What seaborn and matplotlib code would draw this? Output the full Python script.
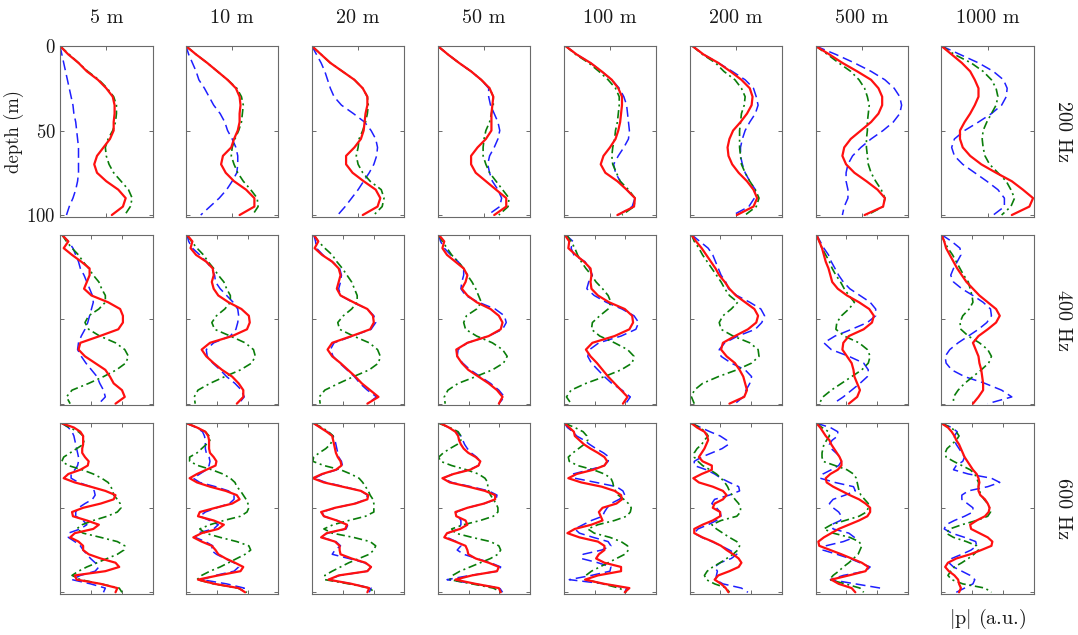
import numpy as np
import pandas as pd
import matplotlib
matplotlib.use("Agg")
import matplotlib.pyplot as plt
import seaborn as sns

# ---------------------------------------------------------------------------
# Receiver ranges (columns) and source frequencies (rows)
RANGES = ["5 m", "10 m", "20 m", "50 m", "100 m", "200 m", "500 m", "1000 m"]
FREQS = ["200 Hz", "400 Hz", "600 Hz"]

# depth grids (m) on which the profiles are sampled
DEPTH_200 = [0, 5, 10, 15, 20, 25, 30, 35, 40, 45, 50, 55, 60, 65, 70, 75, 80, 85, 90, 95, 100]
DEPTH_400 = [0, 4, 8, 12, 16, 20, 24, 28, 32, 36, 40, 44, 48, 52, 56, 60, 64, 68, 72, 76, 80,
             84, 88, 92, 96, 100]
DEPTH_600 = [0, 2.5, 5, 7.5, 10, 12.5, 15, 17.5, 20, 22.5, 25, 27.5, 30, 32.5, 35, 37.5, 40,
             42.5, 45, 47.5, 50, 52.5, 55, 57.5, 60, 62.5, 65, 67.5, 70, 72.5, 75, 77.5, 80,
             82.5, 85, 87.5, 90, 92.5, 95, 97.5, 100]

# |p| (a.u.), one list per range --------------------------------------------
SOLID_200 = [
    [0, .09, .2, .29, .41, .5, .57, .59, .59, .58, .58, .54, .47, .40, .37, .40, .50, .63, .71, .68, .56],
    [0, .11, .23, .34, .45, .54, .58, .59, .58, .58, .56, .52, .49, .4, .38, .43, .52, .65, .74, .74, .58],
    [0, .1, .2, .33, .46, .55, .6, .6, .58, .57, .56, .53, .46, .37, .37, .44, .56, .69, .74, .71, .55],
    [0, .11, .23, .36, .47, .56, .60, .59, .58, .58, .58, .52, .43, .36, .36, .41, .52, .63, .74, .74, .61],
    [.02, .14, .29, .41, .52, .59, .63, .63, .62, .61, .59, .56, .50, .43, .40, .45, .58, .68, .77, .76, .58],
    [.03, .15, .31, .44, .56, .65, .68, .67, .62, .55, .47, .43, .41, .42, .46, .53, .62, .69, .73, .69, .51],
    [0, .15, .29, .45, .6, .68, .72, .72, .68, .6, .49, .38, .31, .29, .33, .42, .55, .67, .75, .73, .53],
    [0, .11, .22, .31, .36, .4, .4, .36, .31, .25, .2, .2, .23, .31, .43, .59, .76, .88, .99, .95, .76],
]
DASHED_200 = [
    [0, .02, .04, .06, .08, .1, .12, .14, .15, .17, .18, .19, .2, .2, .2, .2, .19, .17, .14, .1, .07],
    [0, .03, .07, .11, .14, .2, .25, .3, .37, .42, .45, .5, .54, .56, .56, .55, .5, .44, .36, .26, .16],
    [0, .05, .1, .14, .17, .2, .24, .32, .45, .57, .64, .69, .71, .7, .67, .62, .56, .5, .43, .36, .28],
    [0, .11, .23, .36, .47, .55, .55, .57, .61, .65, .67, .65, .61, .56, .54, .56, .59, .65, .69, .67, .54],
    [.02, .14, .29, .41, .52, .6, .65, .68, .69, .7, .71, .7, .65, .59, .54, .56, .61, .68, .77, .74, .59],
    [.03, .15, .31, .46, .60, .69, .72, .74, .71, .65, .6, .57, .55, .55, .57, .60, .65, .71, .70, .64, .47],
    [0, .22, .42, .6, .75, .85, .91, .93, .91, .84, .73, .6, .49, .4, .35, .33, .33, .35, .35, .31, .29],
    [0, .2, .4, .56, .67, .71, .70, .65, .54, .40, .25, .14, .11, .14, .23, .36, .49, .61, .68, .68, .56],
]
DASHDOT_200 = [
    [0, .1, .2, .3, .42, .51, .58, .61, .61, .6, .57, .52, .49, .5, .53, .58, .66, .74, .78, .76, .70],
    [0, .11, .23, .34, .45, .55, .6, .62, .61, .6, .57, .53, .5, .49, .52, .56, .62, .70, .77, .78, .72],
    [0, .1, .2, .33, .46, .55, .6, .61, .6, .58, .55, .51, .5, .48, .5, .55, .63, .75, .78, .76, .67],
    [0, .11, .23, .36, .47, .56, .6, .6, .58, .56, .52, .5, .49, .49, .52, .56, .63, .70, .77, .76, .66],
    [.02, .13, .27, .38, .48, .56, .6, .6, .59, .58, .56, .55, .53, .52, .53, .57, .61, .70, .77, .76, .63],
    [.03, .14, .28, .37, .49, .56, .6, .59, .56, .55, .54, .54, .54, .55, .56, .60, .65, .71, .75, .72, .6],
    [0, .13, .25, .38, .47, .53, .56, .58, .57, .56, .56, .55, .55, .56, .57, .6, .65, .71, .75, .73, .56],
    [0, .14, .32, .45, .54, .59, .61, .59, .54, .49, .45, .44, .45, .47, .52, .61, .7, .75, .79, .75, .65],
]

SOLID_400 = [
    [.02, .09, .04, .13, .23, .32, .32, .29, .26, .34, .52, .65, .68, .68, .63, .43, .22, .20, .27, .38, .49, .54, .58, .67, .70, .60],
    [.01, .07, .05, .11, .22, .29, .3, .28, .3, .35, .46, .6, .68, .69, .66, .5, .26, .17, .22, .3, .39, .5, .57, .62, .62, .55],
    [.02, .07, .03, .11, .22, .29, .31, .29, .27, .31, .45, .6, .66, .67, .63, .43, .22, .17, .22, .31, .39, .47, .54, .63, .72, .6],
    [.01, .07, .05, .1, .19, .28, .32, .3, .26, .32, .42, .57, .66, .7, .68, .55, .32, .2, .21, .26, .33, .44, .55, .64, .7, .66],
    [.01, .06, .05, .13, .22, .29, .3, .29, .3, .37, .49, .66, .74, .75, .71, .55, .31, .24, .29, .36, .42, .48, .55, .62, .69, .64],
    [.02, .07, .13, .18, .23, .28, .32, .38, .43, .5, .6, .7, .74, .72, .63, .49, .36, .34, .4, .49, .54, .58, .6, .62, .59, .43],
    [.01, .04, .07, .09, .11, .14, .16, .18, .24, .34, .47, .58, .63, .61, .52, .36, .3, .29, .34, .39, .41, .42, .45, .48, .45, .36],
    [0, .03, .05, .09, .13, .17, .22, .27, .34, .41, .5, .59, .63, .59, .5, .4, .34, .37, .4, .41, .43, .44, .45, .45, .4, .34],
]
DASHED_400 = [
    [.02, .09, .14, .17, .2, .22, .26, .29, .32, .35, .36, .34, .32, .3, .27, .23, .2, .19, .23, .28, .34, .4, .43, .47, .49, .42],
    [.01, .03, .07, .15, .22, .28, .31, .32, .37, .44, .51, .56, .57, .56, .54, .48, .3, .22, .23, .29, .37, .44, .53, .6, .63, .57],
    [.02, .04, .05, .12, .22, .3, .32, .31, .29, .31, .44, .6, .67, .69, .64, .44, .24, .2, .23, .3, .38, .46, .52, .6, .7, .6],
    [.01, .03, .07, .14, .22, .28, .28, .26, .25, .3, .44, .62, .72, .74, .7, .55, .32, .22, .21, .27, .35, .46, .57, .66, .72, .66],
    [.02, .1, .08, .11, .23, .28, .31, .27, .25, .33, .46, .63, .76, .81, .78, .62, .38, .28, .26, .3, .37, .44, .52, .63, .72, .67],
    [.02, .11, .2, .25, .28, .31, .34, .39, .42, .51, .65, .77, .81, .78, .71, .52, .38, .32, .34, .45, .6, .67, .65, .61, .58, .49],
    [.01, .05, .09, .14, .17, .21, .25, .3, .37, .48, .59, .65, .65, .56, .39, .21, .09, .17, .36, .52, .57, .56, .48, .39, .3, .19],
    [0, .11, .2, .21, .17, .13, .1, .13, .22, .34, .45, .53, .54, .49, .4, .29, .18, .09, .04, .05, .11, .25, .47, .65, .76, .5],
]
DASHDOT_400 = [
    [.02, .07, .13, .2, .25, .31, .36, .42, .45, .49, .49, .42, .31, .27, .31, .43, .6, .7, .74, .71, .61, .47, .31, .13, .07, .11],
    [.01, .06, .12, .19, .24, .3, .35, .41, .44, .48, .48, .42, .33, .28, .31, .48, .64, .73, .75, .71, .59, .42, .26, .13, .09, .1],
    [.02, .07, .14, .22, .27, .33, .38, .43, .46, .49, .49, .43, .34, .28, .3, .45, .62, .71, .74, .72, .62, .45, .29, .14, .08, .09],
    [.01, .05, .1, .15, .22, .28, .32, .37, .41, .44, .47, .42, .31, .28, .3, .42, .59, .7, .75, .71, .59, .41, .22, .11, .07, .08],
    [.03, .08, .12, .15, .19, .24, .3, .35, .42, .48, .51, .48, .39, .31, .3, .39, .55, .69, .76, .74, .62, .44, .24, .08, .03, .08],
    [.02, .05, .1, .14, .19, .24, .29, .34, .38, .43, .52, .45, .36, .32, .34, .47, .65, .74, .75, .67, .51, .31, .14, .05, .02, .05],
    [.01, .04, .07, .11, .15, .18, .22, .27, .31, .36, .42, .36, .28, .23, .22, .31, .47, .56, .59, .57, .5, .39, .28, .17, .08, .04],
    [0, .03, .07, .12, .16, .2, .24, .29, .31, .33, .34, .3, .23, .2, .21, .29, .41, .5, .54, .51, .43, .34, .25, .18, .13, .13],
]

SOLID_600 = [
    [.02, .15, .22, .25, .25, .25, .24, .24, .27, .31, .3, .22, .09, .04, .16, .33, .49, .6, .58, .44, .25,
     .13, .14, .29, .42, .36, .16, .11, .2, .25, .25, .31, .44, .6, .64, .49, .16, .18, .44, .62, .6],
    [.01, .12, .21, .24, .25, .25, .25, .26, .3, .33, .32, .22, .12, .04, .12, .26, .43, .55, .58, .5, .32,
     .15, .13, .3, .41, .35, .17, .08, .17, .28, .32, .35, .43, .53, .62, .59, .35, .13, .31, .57, .64],
    [.02, .09, .16, .22, .23, .24, .25, .26, .28, .31, .32, .26, .11, .01, .13, .33, .53, .61, .6, .47, .25,
     .1, .13, .27, .38, .36, .16, .1, .25, .3, .3, .31, .43, .58, .64, .6, .29, .18, .43, .62, .6],
    [.03, .12, .19, .22, .23, .25, .28, .33, .41, .46, .44, .35, .17, .05, .13, .33, .51, .62, .62, .5, .32,
     .19, .2, .3, .32, .24, .1, .07, .19, .3, .32, .33, .41, .55, .66, .64, .37, .19, .41, .66, .68],
    [.01, .06, .11, .12, .17, .22, .29, .37, .44, .47, .44, .32, .14, .05, .19, .41, .55, .62, .63, .57, .42,
     .38, .4, .42, .3, .12, .04, .17, .37, .44, .44, .38, .35, .44, .62, .62, .37, .23, .44, .71, .66],
    [.02, .08, .16, .19, .2, .18, .16, .13, .1, .14, .24, .24, .13, .04, .1, .25, .36, .4, .36, .27, .25,
     .33, .33, .25, .14, .05, .05, .14, .25, .34, .4, .47, .53, .56, .53, .43, .31, .27, .34, .39, .42],
    [.01, .05, .08, .11, .15, .17, .2, .23, .26, .28, .28, .24, .16, .11, .12, .19, .28, .37, .47, .54, .59,
     .59, .56, .47, .36, .25, .17, .09, .03, .04, .16, .28, .39, .5, .57, .54, .36, .17, .25, .39, .43],
    [0, .07, .11, .14, .16, .19, .21, .23, .25, .28, .31, .34, .38, .4, .41, .4, .4, .42, .47, .5, .52,
     .51, .47, .38, .31, .32, .41, .5, .55, .54, .43, .31, .16, .07, .04, .08, .14, .18, .19, .21, .19],
]
DASHED_600 = [
    [.02, .09, .13, .15, .16, .17, .18, .19, .2, .2, .19, .16, .12, .12, .2, .33, .37, .38, .35, .27, .2,
     .17, .17, .25, .29, .22, .09, .09, .16, .22, .25, .29, .33, .38, .42, .38, .22, .13, .33, .49, .47],
    [.01, .11, .18, .2, .21, .21, .21, .22, .25, .26, .25, .22, .15, .08, .15, .32, .46, .52, .52, .47, .33,
     .21, .15, .26, .35, .3, .12, .1, .21, .29, .27, .33, .42, .52, .57, .52, .32, .17, .44, .63, .63],
    [.02, .09, .17, .23, .25, .26, .27, .28, .29, .32, .33, .27, .12, .03, .15, .35, .53, .6, .59, .46, .26,
     .11, .13, .27, .39, .37, .17, .11, .26, .31, .25, .22, .4, .57, .64, .6, .3, .18, .43, .64, .62],
    [.03, .12, .2, .25, .27, .29, .32, .36, .42, .46, .44, .34, .16, .06, .15, .36, .55, .64, .63, .5, .32,
     .2, .22, .25, .25, .22, .11, .1, .2, .25, .21, .28, .42, .57, .68, .65, .35, .1, .4, .67, .7],
    [.01, .04, .1, .14, .22, .28, .35, .43, .49, .48, .44, .28, .1, .12, .35, .57, .64, .66, .6, .51, .47,
     .44, .42, .3, .21, .12, .17, .32, .48, .51, .41, .21, .19, .37, .51, .5, .3, .06, .44, .68, .66],
    [.02, .12, .22, .33, .4, .42, .35, .24, .13, .05, .05, .18, .27, .34, .43, .53, .54, .43, .27, .24, .29,
     .33, .34, .29, .2, .09, .05, .13, .24, .34, .43, .51, .45, .33, .27, .3, .29, .28, .36, .56, .63],
    [.01, .16, .24, .24, .18, .15, .17, .22, .27, .28, .25, .17, .08, .05, .21, .41, .43, .32, .19, .15, .19,
     .25, .28, .27, .17, .19, .36, .42, .3, .11, .08, .23, .37, .48, .59, .54, .3, .16, .43, .7, .69],
    [0, .11, .17, .14, .14, .16, .19, .22, .25, .23, .16, .13, .29, .54, .63, .5, .29, .22, .22, .28, .34,
     .34, .25, .14, .05, .03, .11, .25, .37, .38, .32, .22, .11, .08, .13, .22, .31, .36, .34, .25, .16],
]
DASHDOT_600 = [
    [.02, .1, .2, .25, .26, .25, .18, .11, .04, .02, .09, .24, .36, .45, .52, .55, .57, .58, .62, .65, .66,
     .62, .51, .36, .24, .18, .25, .44, .62, .70, .69, .62, .51, .4, .29, .2, .13, .22, .44, .64, .67],
    [.01, .12, .21, .25, .26, .22, .17, .12, .04, .04, .13, .28, .4, .48, .53, .55, .59, .62, .65, .67, .68,
     .66, .59, .41, .26, .15, .21, .37, .55, .68, .7, .64, .55, .46, .37, .26, .17, .12, .3, .56, .66],
    [.02, .11, .18, .23, .22, .2, .15, .08, .02, .01, .13, .31, .42, .51, .55, .58, .61, .63, .66, .67, .67,
     .67, .58, .4, .23, .13, .22, .45, .63, .69, .67, .62, .51, .4, .31, .22, .14, .14, .4, .63, .67],
    [.01, .13, .22, .25, .25, .21, .13, .06, .01, .03, .15, .31, .44, .51, .54, .54, .55, .57, .6, .63, .65,
     .65, .6, .46, .28, .15, .19, .37, .57, .66, .68, .65, .57, .46, .35, .24, .16, .13, .37, .6, .69],
    [.01, .12, .21, .25, .26, .22, .16, .1, .05, .06, .15, .32, .44, .51, .53, .54, .56, .59, .65, .7, .73,
     .72, .68, .55, .37, .26, .33, .5, .62, .69, .70, .66, .57, .48, .39, .30, .24, .25, .42, .6, .68],
    [.02, .11, .17, .2, .16, .13, .08, .05, .05, .09, .14, .22, .29, .34, .38, .41, .43, .46, .49, .53, .55,
     .55, .51, .34, .24, .29, .36, .43, .51, .54, .52, .47, .4, .33, .25, .19, .16, .18, .27, .4, .43],
    [.01, .07, .14, .15, .12, .09, .08, .07, .07, .08, .21, .34, .41, .44, .45, .46, .47, .49, .53, .57, .57,
     .55, .47, .32, .17, .09, .19, .37, .47, .5, .48, .46, .41, .36, .3, .25, .19, .15, .32, .48, .52],
    [0, .1, .16, .19, .16, .11, .06, .04, .05, .13, .22, .31, .36, .38, .4, .4, .41, .43, .46, .5, .52,
     .53, .5, .38, .22, .09, .05, .13, .27, .38, .4, .35, .29, .22, .14, .1, .07, .11, .23, .47, .54],
]

# ---------------------------------------------------------------------------
sns.set_theme(style="white")
plt.rcParams["font.family"] = ["cmr10", "DejaVu Serif"]
plt.rcParams["mathtext.fontset"] = "cm"
plt.rcParams["axes.formatter.use_mathtext"] = True

ORDER = ["dashed", "dashdot", "solid"]          # solid drawn last, on top
PALETTE = {"dashed": "#1f1fff", "dashdot": "#0a7d0a", "solid": "#ff1010"}
DASHES = {"dashed": (6.5, 3.2), "dashdot": (5, 2.2, 1.2, 2.2), "solid": ""}
WIDTHS = {"dashed": 1.1, "dashdot": 1.2, "solid": 1.6}
EDGE = "#6a6a6a"

W, H = 1078, 635
fig, axes = plt.subplots(3, 8, figsize=(W / 100, H / 100), dpi=100)
fig.subplots_adjust(left=60 / W, right=1034 / W, top=1 - 46 / H, bottom=1 - 594 / H,
                    wspace=0.361, hspace=0.105)

rows = [
    (DEPTH_200, SOLID_200, DASHED_200, DASHDOT_200, [0.5]),
    (DEPTH_400, SOLID_400, DASHED_400, DASHDOT_400, [1 / 3, 2 / 3]),
    (DEPTH_600, SOLID_600, DASHED_600, DASHDOT_600, [1 / 3, 2 / 3]),
]

for i, (depth, solid, dashed, dashdot, xt) in enumerate(rows):
    for j in range(len(RANGES)):
        ax = axes[i, j]
        frames = [
            pd.DataFrame({"depth": depth, "p": dashed[j], "model": "dashed"}),
            pd.DataFrame({"depth": depth, "p": dashdot[j], "model": "dashdot"}),
            pd.DataFrame({"depth": depth, "p": solid[j], "model": "solid"}),
        ]
        df = pd.concat(frames, ignore_index=True)
        sns.lineplot(data=df, x="p", y="depth", hue="model", style="model", size="model",
                     hue_order=ORDER, style_order=ORDER, size_order=ORDER,
                     palette=PALETTE, dashes=DASHES, sizes=WIDTHS,
                     sort=False, estimator=None, orient="y", legend=False, ax=ax)
        ax.set_xlim(0, 1)
        ax.set_ylim(101, 0)
        ax.set_xlabel("")
        ax.set_ylabel("")
        ax.set_xticks(xt)
        ax.set_yticks([0, 50, 100])
        first = (i == 0 and j == 0)
        ax.tick_params(direction="in", length=3, width=0.7, color=EDGE,
                       top=True, bottom=True, left=True, right=True,
                       labelbottom=False, labelleft=first, labelsize=13.5,
                       labelcolor="#1a1a1a", pad=3)
        for sp in ax.spines.values():
            sp.set_color(EDGE)
            sp.set_linewidth(0.8)

axes[0, 0].set_ylabel("depth (m)", fontsize=13.5, color="#1a1a1a", labelpad=2)

# column headings: receiver range
for j, name in enumerate(RANGES):
    pos = axes[0, j].get_position()
    fig.text((pos.x0 + pos.x1) / 2, 1 - 18 / H, name, ha="center", va="center",
             fontsize=14.5, color="#1a1a1a")

# row headings: frequency
for i, name in enumerate(FREQS):
    pos = axes[i, -1].get_position()
    fig.text(1063 / W, (pos.y0 + pos.y1) / 2, name, ha="center", va="center",
             rotation=270, fontsize=14.5, color="#1a1a1a")

pos = axes[2, -1].get_position()
fig.text((pos.x0 + pos.x1) / 2, 1 - 619 / H, r"$|$p$|$ (a.u.)", ha="center", va="center",
         fontsize=14.5, color="#1a1a1a")

fig.savefig("out.png", dpi=100)
